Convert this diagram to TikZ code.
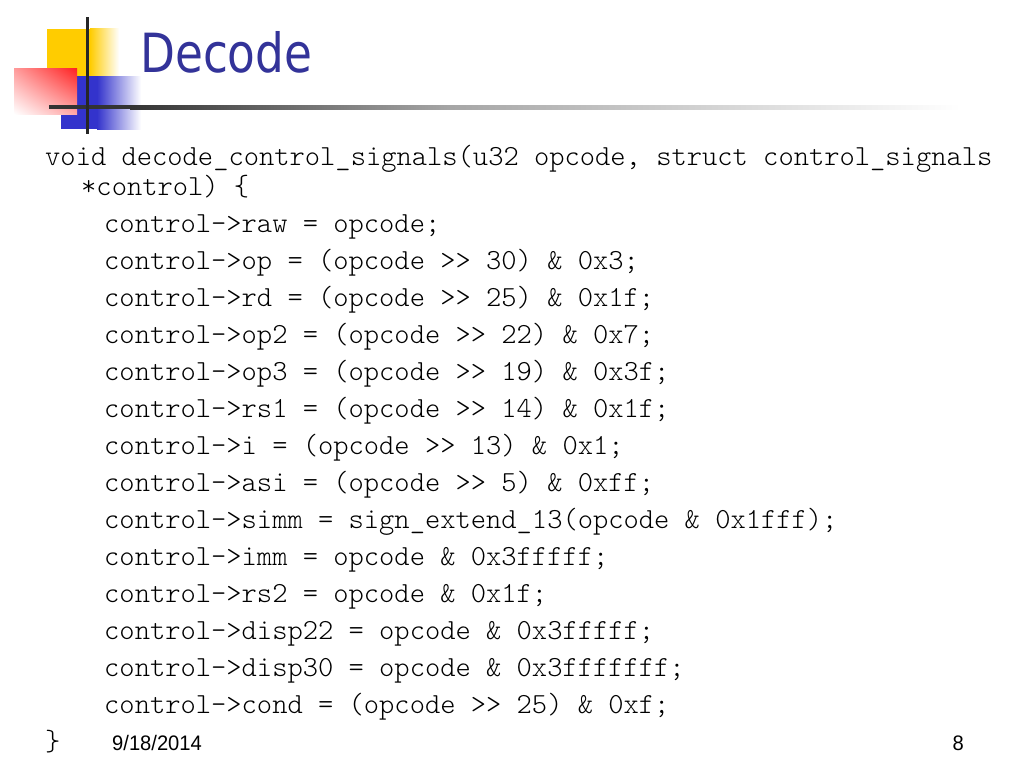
\documentclass[tikz,border=0pt]{standalone}
\usepackage{fontspec}
\usetikzlibrary{shadings}
\setmainfont{Liberation Sans}
\newfontfamily\codefont{lmmonolt10-regular.otf}
\newfontfamily\titlefont{DejaVu Sans}
\definecolor{titleblue}{HTML}{333399}
\definecolor{logoyellow}{HTML}{FFCC00}
\definecolor{logoblue}{HTML}{3333CC}
\definecolor{logored}{HTML}{FF2020}

\begin{document}
\begin{tikzpicture}[x=1pt,y=-1pt,
	code/.style={anchor=base west, inner sep=0pt, font=\codefont\fontsize{29.1}{32}\selectfont},
	foot/.style={inner sep=0pt, font=\fontsize{21}{24}\selectfont}]
			%%%%% START %%%%%
			\useasboundingbox[fill=white] (0, 0) rectangle (1024, 768);
			
			% logo
			\fill[logoyellow] (47, 29) rectangle (90, 77);
			\shade[left color=logoyellow, right color=white] (90, 29) rectangle (119, 77);
			\fill[logoblue] (61, 76) rectangle (97, 129);
			\shade[left color=logoblue, right color=white] (97, 76) rectangle (141, 129);
			\shade[upper right=logored, upper left=logored!45, lower left=white, lower right=logored!40] (14, 68) rectangle (77, 114);
			
			\fill[black!80] (49, 105) rectangle (130, 109);
			\shade[left color=black!80, right color=black!35] (130, 105) rectangle (450, 109);
			\shade[left color=black!35, right color=white] (450, 105) rectangle (960, 109);
			\fill[black!85] (85.5, 17) rectangle (88.5, 134);
			
			% title
			\node[anchor=base west, inner sep=0pt, text=titleblue, font=\titlefont\fontsize{54}{60}\selectfont] (title) at (140, 72) {\scalebox{0.84}[1]{Decode}};
			
			% code
			\node[code] (head) at (45, 165) {void decode\_control\_signals(u32 opcode, struct control\_signals};
			\node[code] (headwrap) at (81, 195) {*control) \{};
			\node[code] (raw) at (104, 232) {control->raw = opcode;};
			\node[code] (op) at (104, 269) {control->op = (opcode >> 30) \& 0x3;};
			\node[code] (rd) at (104, 306) {control->rd = (opcode >> 25) \& 0x1f;};
			\node[code] (optwo) at (104, 343) {control->op2 = (opcode >> 22) \& 0x7;};
			\node[code] (opthree) at (104, 380) {control->op3 = (opcode >> 19) \& 0x3f;};
			\node[code] (rsone) at (104, 417) {control->rs1 = (opcode >> 14) \& 0x1f;};
			\node[code] (ibit) at (104, 454) {control->i = (opcode >> 13) \& 0x1;};
			\node[code] (asi) at (104, 491) {control->asi = (opcode >> 5) \& 0xff;};
			\node[code] (simm) at (104, 528) {control->simm = sign\_extend\_13(opcode \& 0x1fff);};
			\node[code] (imm) at (104, 565) {control->imm = opcode \& 0x3fffff;};
			\node[code] (rstwo) at (104, 602) {control->rs2 = opcode \& 0x1f;};
			\node[code] (disptt) at (104, 639) {control->disp22 = opcode \& 0x3fffff;};
			\node[code] (dispth) at (104, 676) {control->disp30 = opcode \& 0x3fffffff;};
			\node[code] (cond) at (104, 713) {control->cond = (opcode >> 25) \& 0xf;};
			\node[code] (close) at (45, 750) {\}};
			
			% footer
			\node[foot, anchor=base west] (date) at (112, 750) {\scalebox{0.96}[1]{9/18/2014}};
			\node[foot, anchor=base east] (pagenum) at (964, 750) {\scalebox{0.96}[1]{8}};
			%%%%% END %%%%%
\end{tikzpicture}
\end{document}
